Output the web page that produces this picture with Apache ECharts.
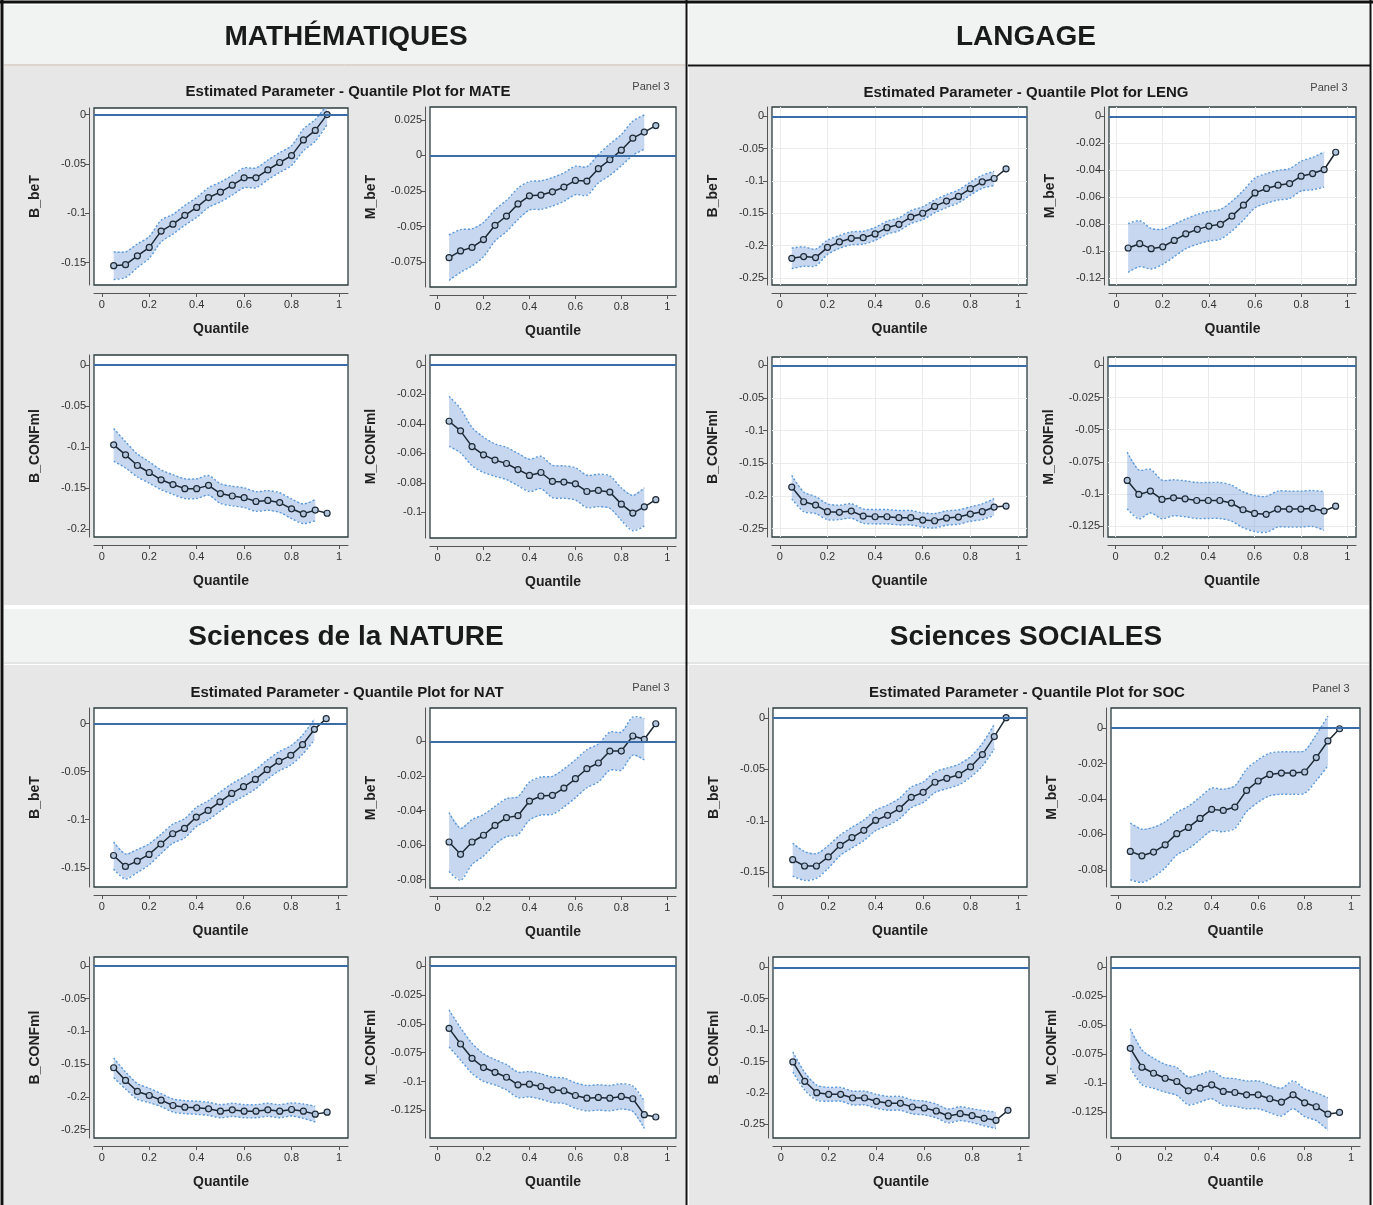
<!DOCTYPE html>
<html><head><meta charset="utf-8">
<script src="https://cdn.jsdelivr.net/npm/echarts@6/dist/echarts.min.js"></script>
<style>html,body{margin:0;padding:0;background:#fff}#c{width:1373px;height:1205px}</style>
</head><body><div id="c"></div>
<script>
// ---------- DATA ----------
const quantiles = [0.05,0.1,0.15,0.2,0.25,0.3,0.35,0.4,0.45,0.5,0.55,0.6,0.65,0.7,0.75,0.8,0.85,0.9,0.95];
const xTicks = [0,0.2,0.4,0.6,0.8,1];
const sectionTitles = ['MATHÉMATIQUES','LANGAGE','Sciences de la NATURE','Sciences SOCIALES'];
const panelTitles = ['Estimated Parameter - Quantile Plot for MATE','Estimated Parameter - Quantile Plot for LENG','Estimated Parameter - Quantile Plot for NAT','Estimated Parameter - Quantile Plot for SOC'];
const panelTag = 'Panel 3';
const xName = 'Quantile';
const yNames = ['B_beT','M_beT','B_CONFml','M_CONFml'];

const mateBbeT  = [-0.153,-0.152,-0.143,-0.1345,-0.118,-0.111,-0.102,-0.094,-0.084,-0.0785,-0.0715,-0.064,-0.064,-0.056,-0.0485,-0.0415,-0.0256,-0.016,0.0];
const mateMbeT  = [-0.0717,-0.067,-0.0645,-0.059,-0.049,-0.0425,-0.034,-0.0283,-0.0278,-0.0255,-0.0222,-0.0175,-0.018,-0.0093,-0.003,0.0037,0.0121,0.0164,0.021];
const mateBconf = [-0.0976,-0.1098,-0.1228,-0.1313,-0.1402,-0.146,-0.151,-0.151,-0.147,-0.157,-0.160,-0.162,-0.1667,-0.1654,-0.168,-0.1756,-0.1817,-0.1772,-0.181];
const mateMconf = [-0.0382,-0.0447,-0.0554,-0.061,-0.0646,-0.0669,-0.071,-0.075,-0.073,-0.0791,-0.0795,-0.0807,-0.0859,-0.0852,-0.0863,-0.0945,-0.1006,-0.0963,-0.0915];
const lengBbeT  = [-0.2197,-0.217,-0.2186,-0.2027,-0.1944,-0.1888,-0.1878,-0.182,-0.1723,-0.1672,-0.1559,-0.150,-0.1394,-0.1312,-0.124,-0.112,-0.1013,-0.0962,-0.0813];
const lengMbeT  = [-0.0975,-0.0943,-0.098,-0.0966,-0.0919,-0.087,-0.0837,-0.0813,-0.080,-0.0739,-0.0658,-0.0567,-0.0534,-0.051,-0.0498,-0.0443,-0.0424,-0.0394,-0.0266];
const lengBconf = [-0.1863,-0.2088,-0.2138,-0.224,-0.225,-0.223,-0.2307,-0.2317,-0.2317,-0.2332,-0.2332,-0.2368,-0.2378,-0.2337,-0.2322,-0.2276,-0.224,-0.2169,-0.2154];
const lengMconf = [-0.0895,-0.1004,-0.0978,-0.1043,-0.103,-0.1038,-0.1051,-0.1051,-0.1051,-0.1071,-0.1123,-0.1152,-0.1159,-0.1118,-0.1118,-0.1118,-0.1113,-0.1133,-0.1095];
const natBbeT   = [-0.1372,-0.1486,-0.143,-0.1361,-0.1253,-0.1146,-0.109,-0.0972,-0.0903,-0.0813,-0.0726,-0.0656,-0.058,-0.0479,-0.0392,-0.033,-0.0219,-0.0059,0.0052];
const natMbeT   = [-0.0582,-0.0653,-0.0582,-0.0543,-0.0486,-0.0441,-0.043,-0.0345,-0.0316,-0.0312,-0.027,-0.0216,-0.0158,-0.0125,-0.0056,-0.0056,0.0031,0.0012,0.0102];
const natBconf  = [-0.1556,-0.175,-0.1918,-0.198,-0.2051,-0.2133,-0.2158,-0.2168,-0.2184,-0.222,-0.2199,-0.222,-0.222,-0.2199,-0.222,-0.2194,-0.222,-0.2265,-0.2235];
const natMconf  = [-0.054,-0.0675,-0.0799,-0.0879,-0.092,-0.0963,-0.1029,-0.1023,-0.1043,-0.1072,-0.108,-0.1121,-0.1144,-0.1138,-0.1144,-0.1129,-0.1149,-0.1287,-0.1307];
const socBbeT   = [-0.1377,-0.1439,-0.1439,-0.1351,-0.1238,-0.1163,-0.1092,-0.0995,-0.0946,-0.0881,-0.0771,-0.0723,-0.0625,-0.0587,-0.0551,-0.0476,-0.0356,-0.0181,0.0003];
const socMbeT   = [-0.0696,-0.0721,-0.07,-0.0659,-0.0596,-0.0561,-0.051,-0.0459,-0.0465,-0.0446,-0.0352,-0.0299,-0.0262,-0.0254,-0.0254,-0.0248,-0.0167,-0.0073,-0.0004];
const socBconf  = [-0.1507,-0.1815,-0.1996,-0.2022,-0.2022,-0.2081,-0.2081,-0.2134,-0.2166,-0.2166,-0.2224,-0.224,-0.2288,-0.2367,-0.233,-0.2362,-0.2404,-0.2436,-0.2277];
const socMconf  = [-0.07,-0.0863,-0.0915,-0.0958,-0.0986,-0.1067,-0.1044,-0.1015,-0.1072,-0.1081,-0.1101,-0.1101,-0.1135,-0.1164,-0.1101,-0.117,-0.1204,-0.1267,-0.1253];

// confidence band half-widths (null = no band)
const mateBbeTHw  = [0.014,0.013,0.012,0.011,0.011,0.010,0.010,0.010,0.010,0.010,0.010,0.010,0.010,0.010,0.010,0.010,0.011,0.011,0.010];
const mateMbeTHw  = [0.016,0.015,0.013,0.012,0.011,0.011,0.011,0.010,0.010,0.010,0.010,0.010,0.010,0.010,0.011,0.011,0.012,0.012,null];
const mateBconfHw = [0.020,0.016,0.014,0.013,0.012,0.012,0.012,0.012,0.012,0.012,0.012,0.012,0.012,0.012,0.012,0.012,0.012,0.013,null];
const mateMconfHw = [0.017,0.015,0.013,0.012,0.011,0.011,0.011,0.011,0.011,0.011,0.011,0.011,0.011,0.011,0.011,0.011,0.012,0.013,null];
const lengBbeTHw  = [0.016,0.015,0.013,0.011,0.010,0.010,0.010,0.010,0.010,0.010,0.010,0.010,0.010,0.010,0.010,0.010,0.010,0.011,null];
const lengMbeTHw  = [0.018,0.017,0.015,0.013,0.012,0.011,0.011,0.011,0.011,0.011,0.011,0.011,0.011,0.011,0.011,0.011,0.012,0.013,null];
const lengBconfHw = [0.018,0.015,0.013,0.012,0.011,0.011,0.011,0.011,0.011,0.011,0.011,0.011,0.011,0.011,0.011,0.011,0.012,0.013,null];
const lengMconfHw = [0.022,0.019,0.017,0.015,0.014,0.014,0.014,0.014,0.014,0.014,0.014,0.014,0.014,0.014,0.014,0.014,0.014,0.015,null];
const natBbeTHw   = [0.014,0.013,0.012,0.011,0.010,0.010,0.010,0.010,0.010,0.010,0.010,0.010,0.010,0.010,0.010,0.010,0.010,0.011,null];
const natMbeTHw   = [0.017,0.015,0.013,0.012,0.011,0.011,0.011,0.011,0.011,0.011,0.011,0.011,0.011,0.011,0.011,0.011,0.011,0.012,null];
const natBconfHw  = [0.015,0.013,0.012,0.011,0.010,0.010,0.010,0.010,0.010,0.010,0.010,0.010,0.010,0.010,0.010,0.010,0.011,0.012,null];
const natMconfHw  = [0.016,0.014,0.013,0.012,0.011,0.011,0.011,0.011,0.011,0.011,0.011,0.011,0.011,0.011,0.011,0.011,0.011,0.012,null];
const socBbeTHw   = [0.016,0.014,0.012,0.011,0.010,0.010,0.010,0.010,0.010,0.010,0.010,0.010,0.010,0.010,0.010,0.010,0.011,0.012,null];
const socMbeTHw   = [0.016,0.015,0.014,0.013,0.012,0.012,0.012,0.012,0.012,0.012,0.012,0.012,0.012,0.012,0.012,0.012,0.013,0.014,null];
const socBconfHw  = [0.016,0.014,0.012,0.011,0.011,0.011,0.011,0.011,0.011,0.011,0.011,0.011,0.011,0.011,0.011,0.011,0.012,0.013,null];
const socMconfHw  = [0.017,0.015,0.013,0.012,0.012,0.012,0.012,0.012,0.012,0.012,0.012,0.012,0.012,0.012,0.012,0.012,0.012,0.014,null];

// y tick labels per plot
const ticksBbeT15 = [0,-0.05,-0.1,-0.15];
const ticksMateM  = [0.025,0,-0.025,-0.05,-0.075];
const ticksB20    = [0,-0.05,-0.1,-0.15,-0.2];
const ticksM10    = [0,-0.02,-0.04,-0.06,-0.08,-0.1];
const ticksB25    = [0,-0.05,-0.1,-0.15,-0.2,-0.25];
const ticksM12    = [0,-0.02,-0.04,-0.06,-0.08,-0.1,-0.12];
const ticksM125   = [0,-0.025,-0.05,-0.075,-0.1,-0.125];
const ticksM08    = [0,-0.02,-0.04,-0.06,-0.08];

// ---------- LAYOUT ----------
const FONT = 'Liberation Sans, Arial, sans-serif';
const plots = [
  {v:mateBbeT, hw:mateBbeTHw, name:0, ticks:ticksBbeT15, min:-0.1726, max:0.0067, g:[94,108,254,177]},
  {v:mateMbeT, hw:mateMbeTHw, name:1, ticks:ticksMateM,  min:-0.0923, max:0.034,  g:[430,107,246,180]},
  {v:mateBconf,hw:mateBconfHw,name:2, ticks:ticksB20,    min:-0.210,  max:0.012,  g:[94,355,254,182]},
  {v:mateMconf,hw:mateMconfHw,name:3, ticks:ticksM10,    min:-0.1175, max:0.0068, g:[430,355,246,183]},
  {v:lengBbeT, hw:lengBbeTHw, name:0, ticks:ticksB25,    min:-0.261,  max:0.0144, g:[772,107,255,178], grid:true},
  {v:lengMbeT, hw:lengMbeTHw, name:1, ticks:ticksM12,    min:-0.1249, max:0.0069, g:[1109,107,247,178], grid:true},
  {v:lengBconf,hw:lengBconfHw,name:2, ticks:ticksB25,    min:-0.2627, max:0.0127, g:[772,357,255,180], grid:true},
  {v:lengMconf,hw:lengMconfHw,name:3, ticks:ticksM125,   min:-0.1335, max:0.0065, g:[1108,357,248,180], grid:true},
  {v:natBbeT,  hw:natBbeTHw,  name:0, ticks:ticksBbeT15, min:-0.170,  max:0.0163, g:[94,708,253,179]},
  {v:natMbeT,  hw:natMbeTHw,  name:1, ticks:ticksM08,    min:-0.0848, max:0.0193, g:[430,708,246,180]},
  {v:natBconf, hw:natBconfHw, name:2, ticks:ticksB25,    min:-0.263,  max:0.0138, g:[94,957,254,181]},
  {v:natMconf, hw:natMconfHw, name:3, ticks:ticksM125,   min:-0.1489, max:0.0078, g:[430,957,246,181]},
  {v:socBbeT,  hw:socBbeTHw,  name:0, ticks:ticksBbeT15, min:-0.1643, max:0.0097, g:[773,708,254,179]},
  {v:socMbeT,  hw:socMbeTHw,  name:1, ticks:ticksM08,    min:-0.0897, max:0.0113, g:[1111,708,249,179]},
  {v:socBconf, hw:socBconfHw, name:2, ticks:ticksB25,    min:-0.2718, max:0.0165, g:[773,957,256,181]},
  {v:socMconf, hw:socMconfHw, name:3, ticks:ticksM125,   min:-0.1474, max:0.0089, g:[1111,957,249,181]}
];

const fmt = v => String(+(+v).toFixed(4));
const grids = [], xAxes = [], yAxes = [], series = [];
plots.forEach((p, i) => {
  grids.push({left:p.g[0], top:p.g[1], width:p.g[2], height:p.g[3], show:true,
    backgroundColor:'#ffffff', borderColor:'#2c3e40', borderWidth:1.3, containLabel:false});
  xAxes.push({type:'value', gridIndex:i, min:-0.033, max:1.038, offset:8,
    axisLine:{show:true, onZero:false, lineStyle:{color:'#555', width:1}},
    axisTick:{show:true, length:4, customValues:xTicks, lineStyle:{color:'#555'}},
    axisLabel:{customValues:xTicks, formatter:fmt, fontSize:11, color:'#333', margin:6, fontFamily:FONT},
    splitLine:{show:!!p.grid, lineStyle:{color:'#ebebeb'}},
    name:xName, nameLocation:'middle', nameGap:29,
    nameTextStyle:{fontWeight:'bold', fontSize:14, color:'#222', fontFamily:FONT}});
  yAxes.push({type:'value', gridIndex:i, min:p.min, max:p.max, offset:5,
    axisLine:{show:true, onZero:false, lineStyle:{color:'#555', width:1}},
    axisTick:{show:true, length:4, customValues:p.ticks, lineStyle:{color:'#555'}},
    axisLabel:{customValues:p.ticks, formatter:fmt, fontSize:11, color:'#333', margin:3, fontFamily:FONT},
    splitLine:{show:!!p.grid, lineStyle:{color:'#ebebeb'}},
    name:yNames[p.name], nameLocation:'middle', nameGap:47, nameRotate:90,
    nameTextStyle:{fontWeight:'bold', fontSize:14, color:'#222', fontFamily:FONT}});
  const bandData = [];
  quantiles.forEach((q, j) => { if (p.hw[j] != null) bandData.push([q, p.v[j]-p.hw[j], p.v[j]+p.hw[j]]); });
  series.push({type:'custom', xAxisIndex:i, yAxisIndex:i, z:2, silent:true, clip:true,
    data:bandData, encode:{x:0, y:[1,2]},
    renderItem:(params, api) => {
      if (params.dataIndex !== 0) return null;
      const up = bandData.map(d => api.coord([d[0], d[2]]));
      const lo = bandData.map(d => api.coord([d[0], d[1]]));
      return {type:'group', children:[
        {type:'polygon', shape:{points:up.concat(lo.slice().reverse())}, style:{fill:'rgba(125,160,220,0.42)'}},
        {type:'polyline', shape:{points:up, smooth:0.3}, style:{stroke:'#5b9ad8', lineWidth:1.4, lineDash:[2,2], fill:null}},
        {type:'polyline', shape:{points:lo, smooth:0.3}, style:{stroke:'#5b9ad8', lineWidth:1.4, lineDash:[2,2], fill:null}}
      ]};
    }});
  series.push({type:'line', xAxisIndex:i, yAxisIndex:i, z:3, silent:true, animation:false,
    data:quantiles.map((q, j) => [q, p.v[j]]),
    symbol:'circle', symbolSize:6, showSymbol:true,
    lineStyle:{color:'#1d2a36', width:1.5},
    itemStyle:{color:'#b4c6de', borderColor:'#1d2a36', borderWidth:1.2},
    markLine:{silent:true, symbol:'none', label:{show:false},
      lineStyle:{color:'#3b6ea8', width:2, type:'solid'}, data:[{yAxis:0}]}});
});

// ---------- DECORATION ----------
const headerBg = '#f1f3f2', panelBg = '#e7e7e7';
const graphic = [
  {type:'rect', z:-10, shape:{x:4,y:5,width:681,height:59}, style:{fill:headerBg}},
  {type:'rect', z:-10, shape:{x:689,y:5,width:680,height:59}, style:{fill:headerBg}},
  {type:'rect', z:-10, shape:{x:4,y:66,width:681,height:539}, style:{fill:panelBg}},
  {type:'rect', z:-10, shape:{x:689,y:67,width:680,height:538}, style:{fill:panelBg}},
  {type:'rect', z:-10, shape:{x:4,y:609,width:681,height:53}, style:{fill:headerBg}},
  {type:'rect', z:-10, shape:{x:689,y:609,width:680,height:53}, style:{fill:headerBg}},
  {type:'rect', z:-10, shape:{x:4,y:665,width:681,height:540}, style:{fill:panelBg}},
  {type:'rect', z:-10, shape:{x:689,y:665,width:680,height:540}, style:{fill:panelBg}},
  {type:'line', z:-5, shape:{x1:688,y1:65.5,x2:1370,y2:65.5}, style:{stroke:'#111',lineWidth:2}},
  {type:'line', z:-5, shape:{x1:4,y1:65,x2:685,y2:65}, style:{stroke:'#b8aaa0',lineWidth:1}},
  {type:'line', z:-5, shape:{x1:4,y1:663,x2:1369,y2:663}, style:{stroke:'#c8c8c8',lineWidth:1}},
  {type:'line', z:-5, shape:{x1:2,y1:0,x2:2,y2:1205}, style:{stroke:'#111',lineWidth:3}},
  {type:'line', z:-5, shape:{x1:0,y1:2,x2:1373,y2:2}, style:{stroke:'#111',lineWidth:3}},
  {type:'line', z:-5, shape:{x1:1370.5,y1:0,x2:1370.5,y2:1205}, style:{stroke:'#111',lineWidth:2}},
  {type:'line', z:-5, shape:{x1:686.5,y1:0,x2:686.5,y2:1205}, style:{stroke:'#111',lineWidth:2}}
];
const sectionPos = [[346,37],[1026,37],[346,637],[1026,637]];
sectionTitles.forEach((t, k) => graphic.push({type:'text', z:5, x:sectionPos[k][0], y:sectionPos[k][1],
  style:{text:t, fill:'#1a1a1a', font:'bold 28px ' + FONT, align:'center', verticalAlign:'middle', textAlign:'center', textVerticalAlign:'middle'}}));
const titlePos = [[348,92],[1026,93],[347,693],[1027,693]];
panelTitles.forEach((t, k) => graphic.push({type:'text', z:5, x:titlePos[k][0], y:titlePos[k][1],
  style:{text:t, fill:'#1a1a1a', font:'bold 15px ' + FONT, align:'center', verticalAlign:'middle', textAlign:'center', textVerticalAlign:'middle'}}));
const tagPos = [[651,87],[1329,88],[651,688],[1331,689]];
tagPos.forEach(pp => graphic.push({type:'text', z:5, x:pp[0], y:pp[1],
  style:{text:panelTag, fill:'#444', font:'11px ' + FONT, align:'center', verticalAlign:'middle', textAlign:'center', textVerticalAlign:'middle'}}));

const chart = echarts.init(document.getElementById('c'), null, {renderer:'canvas'});
chart.setOption({animation:false, backgroundColor:'#ffffff', grid:grids, xAxis:xAxes, yAxis:yAxes, series:series, graphic:graphic});
</script></body></html>
